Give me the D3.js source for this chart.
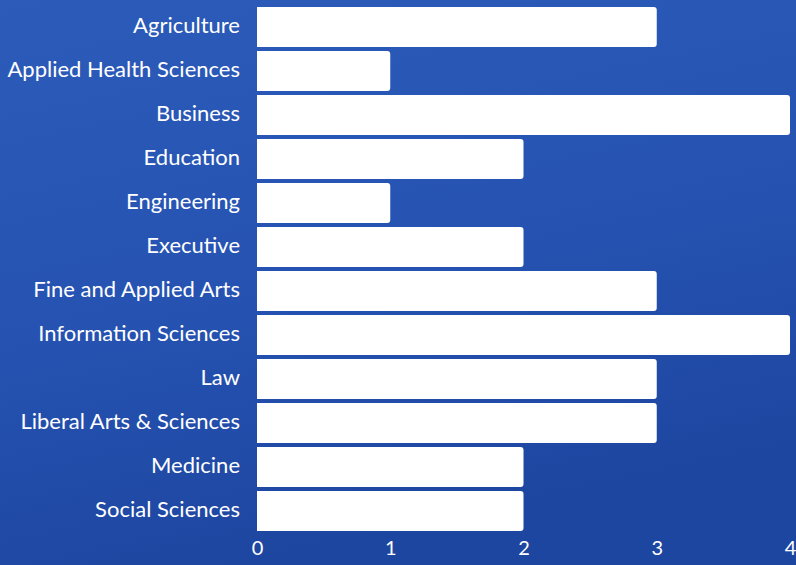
<!DOCTYPE html>
<html>
<head>
<meta charset="utf-8">
<script src="https://cdn.jsdelivr.net/npm/d3@7"></script>
<style>
  body { margin: 0; overflow: hidden; }
  svg { display: block; font-family: Lato, "Open Sans", sans-serif; }
</style>
</head>
<body>
<script>
// chart data
var colleges = ["Agriculture", "Applied Health Sciences", "Business", "Education",
  "Engineering", "Executive", "Fine and Applied Arts", "Information Sciences",
  "Law", "Liberal Arts & Sciences", "Medicine", "Social Sciences"];
var counts = [3, 1, 4, 2, 1, 2, 3, 4, 3, 3, 2, 2];
var tickValues = [0, 1, 2, 3, 4];

var svgWidth = 796;
var svgHeight = 565;

var svg = d3.select("body").append("svg")
    .attr("width", svgWidth)
    .attr("height", svgHeight);

// background gradient
var defs = svg.append("defs");
var grad = defs.append("linearGradient")
    .attr("id", "bg")
    .attr("x1", "0").attr("y1", "0")
    .attr("x2", "0.3").attr("y2", "1");
grad.append("stop").attr("offset", "0%").attr("stop-color", "#2c5bba");
grad.append("stop").attr("offset", "55%").attr("stop-color", "#2653b2");
grad.append("stop").attr("offset", "100%").attr("stop-color", "#1d46a0");

svg.append("rect")
    .attr("width", svgWidth)
    .attr("height", svgHeight)
    .attr("fill", "url(#bg)");

var x = d3.scaleLinear()
    .domain([0, 4])
    .range([257, 790]);

var y = d3.scaleBand()
    .domain(colleges)
    .range([7, 531])
    .paddingInner(0.09)
    .paddingOuter(0.0);

// bars with rounded right end
function barPath(d, i) {
    var x0 = x(0), x1 = x(d), y0 = y(colleges[i]), h = y.bandwidth(), r = 3;
    return "M" + x0 + "," + y0 +
        "H" + (x1 - r) +
        "Q" + x1 + "," + y0 + " " + x1 + "," + (y0 + r) +
        "V" + (y0 + h - r) +
        "Q" + x1 + "," + (y0 + h) + " " + (x1 - r) + "," + (y0 + h) +
        "H" + x0 + "Z";
}

svg.selectAll("path.bar")
    .data(counts)
    .enter()
    .append("path")
    .attr("class", "bar")
    .attr("d", barPath)
    .attr("fill", "#ffffff");

// category labels
var yAxis = svg.append("g")
    .attr("transform", "translate(" + 240 + ",-1)")
    .call(d3.axisLeft(y).tickSize(0).tickPadding(0));
yAxis.select(".domain").remove();
yAxis.selectAll("text")
    .attr("fill", "#ffffff")
    .attr("font-size", "22px")
    .attr("font-family", "Lato, 'Open Sans', sans-serif");

// value axis
var xAxis = svg.append("g")
    .attr("transform", "translate(0," + 537 + ")")
    .call(d3.axisBottom(x).tickValues(tickValues).tickFormat(d3.format("d")).tickSize(0).tickPadding(4));
xAxis.select(".domain").remove();
xAxis.selectAll("text")
    .attr("fill", "#ffffff")
    .attr("font-size", "20px")
    .attr("font-family", "Lato, 'Open Sans', sans-serif");
</script>
</body>
</html>
